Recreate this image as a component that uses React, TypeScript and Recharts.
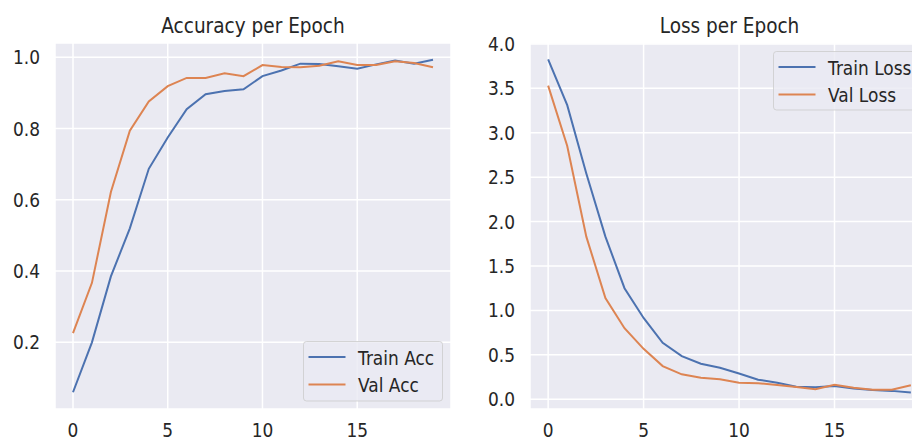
import React from 'react';
import { LineChart, Line, XAxis, YAxis, CartesianGrid } from 'recharts';

const epochs = [0, 1, 2, 3, 4, 5, 6, 7, 8, 9, 10, 11, 12, 13, 14, 15, 16, 17, 18, 19];

const trainAcc = [0.06, 0.2, 0.385, 0.52, 0.687, 0.775, 0.854, 0.896, 0.905, 0.91, 0.947, 0.963, 0.982, 0.981, 0.975, 0.968, 0.98, 0.991, 0.982, 0.993];
const valAcc = [0.226, 0.367, 0.622, 0.794, 0.876, 0.919, 0.942, 0.942, 0.955, 0.947, 0.978, 0.973, 0.972, 0.976, 0.989, 0.978, 0.978, 0.989, 0.984, 0.972];

const trainLoss = [3.825, 3.31, 2.54, 1.83, 1.25, 0.915, 0.635, 0.485, 0.4, 0.355, 0.29, 0.22, 0.186, 0.14, 0.134, 0.15, 0.12, 0.105, 0.094, 0.075];
const valLoss = [3.53, 2.85, 1.83, 1.14, 0.8, 0.567, 0.373, 0.28, 0.243, 0.224, 0.186, 0.18, 0.16, 0.138, 0.112, 0.164, 0.13, 0.108, 0.108, 0.157];

const epochTicks = [0, 5, 10, 15];
const accTicks = [0.2, 0.4, 0.6, 0.8, 1.0];
const lossTicks = [0, 0.5, 1, 1.5, 2, 2.5, 3, 3.5, 4];

const accData = epochs.map((e, i) => ({ epoch: e, train: trainAcc[i], val: valAcc[i] }));
const lossData = epochs.map((e, i) => ({ epoch: e, train: trainLoss[i], val: valLoss[i] }));

const FONT = '"DejaVu Sans", Verdana, sans-serif';
const TEXT = '#262626';
const BLUE = '#4C72B0';
const ORANGE = '#DD8452';
const FACE = '#EAEAF2';

// the reference text is a little taller than it is wide
const Txt = ({ x, y, size = 17, anchor = 'start', children }: any) => (
  <text
    transform={`translate(${x},${y}) scale(1,1.1)`}
    textAnchor={anchor}
    fontSize={size}
    fontFamily={FONT}
    fill={TEXT}
  >
    {children}
  </text>
);

const YTick = ({ x, y, payload }: any) => (
  <Txt x={x} y={y + 7} anchor="end">
    {Number(payload.value).toFixed(1)}
  </Txt>
);

const XTick = ({ x, y, payload }: any) => (
  <Txt x={x} y={y + 27.5} anchor="middle">
    {payload.value}
  </Txt>
);

const LegendBox = ({ x, y, w, h, items }: any) => (
  <g>
    <rect x={x} y={y} width={w} height={h} rx={3} fill={FACE} fillOpacity={0.8} stroke="#cccccc" strokeOpacity={0.8} />
    {items.map((it: any, i: number) => {
      const ly = y + 15.5 + i * 27.5;
      return (
        <g key={it.label}>
          <line x1={x + 5} x2={x + 42} y1={ly} y2={ly} stroke={it.color} strokeWidth={2} />
          <Txt x={x + 54.5} y={ly + 7.5}>
            {it.label}
          </Txt>
        </g>
      );
    })}
  </g>
);

function EpochChart({ data, width, yWidth, right, domain, ticks }: any) {
  return (
    <LineChart width={width} height={441} data={data} margin={{ top: 43, right, left: 0, bottom: 0 }}>
      <CartesianGrid fill={FACE} stroke="#ffffff" strokeWidth={1.5} />
      <XAxis
        dataKey="epoch"
        type="number"
        domain={[-0.95, 19.95]}
        ticks={epochTicks}
        interval={0}
        axisLine={false}
        tickLine={false}
        tickSize={0}
        tickMargin={0}
        height={32}
        tick={<XTick />}
        allowDataOverflow
      />
      <YAxis
        type="number"
        domain={domain}
        ticks={ticks}
        interval={0}
        axisLine={false}
        tickLine={false}
        tickSize={0}
        tickMargin={15}
        width={yWidth}
        tick={<YTick />}
        allowDataOverflow
      />
      <Line type="linear" dataKey="train" stroke={BLUE} strokeWidth={2} dot={false} isAnimationActive={false} />
      <Line type="linear" dataKey="val" stroke={ORANGE} strokeWidth={2} dot={false} isAnimationActive={false} />
    </LineChart>
  );
}

export default function App() {
  return (
    <div style={{ position: 'fixed', left: 0, top: 0, width: 912, height: 441, overflow: 'hidden', background: '#ffffff' }}>
      <div style={{ position: 'absolute', left: 0, top: 0 }}>
        <EpochChart data={accData} width={456} yWidth={55} right={5} domain={[0.013, 1.04]} ticks={accTicks} />
      </div>
      <div style={{ position: 'absolute', left: 456, top: 0 }}>
        <EpochChart data={lossData} width={473} yWidth={74} right={0} domain={[-0.11, 4.01]} ticks={lossTicks} />
      </div>
      <svg width={912} height={441} style={{ position: 'absolute', left: 0, top: 0, pointerEvents: 'none' }}>
        <Txt x={253} y={32.5} size={18.5} anchor="middle">
          Accuracy per Epoch
        </Txt>
        <Txt x={729.5} y={32.5} size={18.5} anchor="middle">
          Loss per Epoch
        </Txt>
        <LegendBox
          x={303.5}
          y={341.5}
          w={139}
          h={59.5}
          items={[
            { label: 'Train Acc', color: BLUE },
            { label: 'Val Acc', color: ORANGE },
          ]}
        />
        <LegendBox
          x={773.5}
          y={51.5}
          w={150}
          h={58.5}
          items={[
            { label: 'Train Loss', color: BLUE },
            { label: 'Val Loss', color: ORANGE },
          ]}
        />
      </svg>
    </div>
  );
}
